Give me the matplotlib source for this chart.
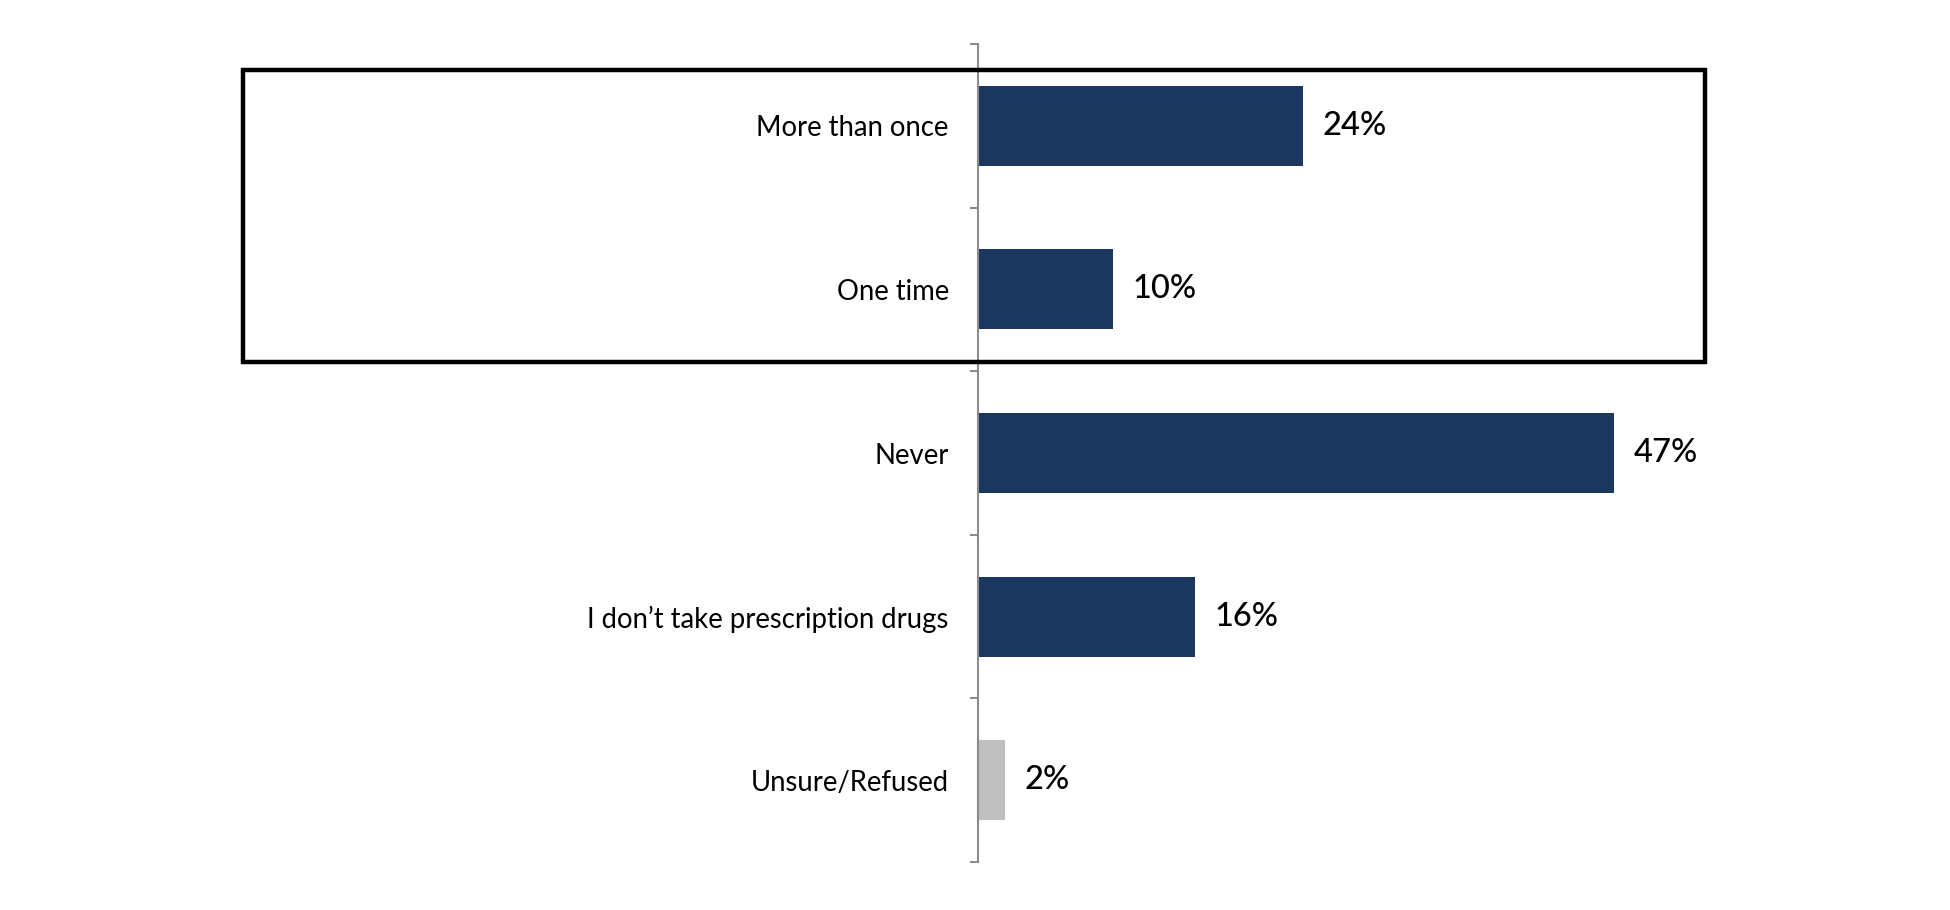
import matplotlib.pyplot as plt
from matplotlib.patches import Rectangle

# Survey answers and shares (%)
categories = ["More than once", "One time", "Never",
              "I don\u2019t take prescription drugs", "Unsure/Refused"]
values = [24, 10, 47, 16, 2]
bar_colors = ["#1B375F", "#1B375F", "#1B375F", "#1B375F", "#BFBFBF"]

plt.rcParams['font.family'] = ['Lato', 'DejaVu Sans']

fig = plt.figure(figsize=(19.5, 9.1), dpi=100)
ax = fig.add_axes([978 / 1950, 1 - 862 / 910, 677 / 1950, 818 / 910])

y_pos = list(range(len(categories)))
ax.barh(y_pos, values, height=0.49, color=bar_colors)

# value labels just right of each bar
for y, v in zip(y_pos, values):
    ax.annotate(f"{v}%", xy=(v, y), xytext=(14, 0), textcoords="offset points",
                va="center", ha="left", fontsize=23.5, fontweight="medium",
                color="black")

ax.set_xlim(0, 50)
ax.set_ylim(len(categories) - 0.5, -0.5)

# category labels, tick marks only at band boundaries
ax.set_yticks(y_pos)
ax.set_yticklabels(categories, fontsize=19.8)
ax.set_yticks([i - 0.5 for i in range(len(categories) + 1)], minor=True)
ax.tick_params(axis="y", which="major", length=0, pad=21)
ax.tick_params(axis="y", which="minor", length=6, width=1.5, color="#8C8C8C")
ax.set_xticks([])

for side in ["top", "right", "bottom"]:
    ax.spines[side].set_visible(False)
ax.spines["left"].set_color("#8C8C8C")
ax.spines["left"].set_linewidth(1.5)

# highlight box around the first two answers
box = Rectangle((243 / 1950, 1 - 362 / 910), (1705 - 243) / 1950, (362 - 70) / 910,
                transform=fig.transFigure, fill=False, edgecolor="black",
                linewidth=3.2, zorder=5)
fig.patches.append(box)

fig.savefig("out.png", dpi=100)
